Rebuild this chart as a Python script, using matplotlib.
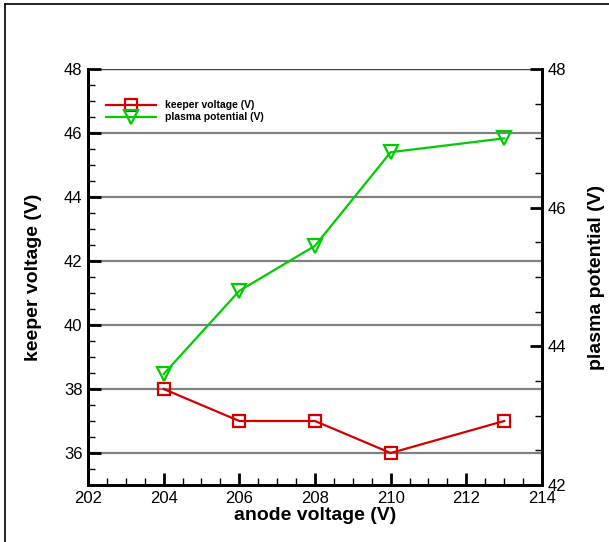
import matplotlib
matplotlib.use("Agg")
import matplotlib.pyplot as plt
from matplotlib.ticker import MultipleLocator
from matplotlib.lines import Line2D

plt.rcParams['font.family'] = ['Liberation Sans', 'DejaVu Sans']

anode = [204, 206, 208, 210, 213]
keeper = [38, 37, 37, 36, 37]
plasma = [43.6, 44.8, 45.45, 46.8, 47.0]

red = '#d40000'
green = '#00cc00'

fig = plt.figure(figsize=(6.09, 5.42), dpi=100)
ax = fig.add_axes([88/609, 1-485/542, (542-88)/609, (485-69)/542])
ax2 = ax.twinx()

ax.set_xlim(202, 214)
ax.set_ylim(35, 48)
ax2.set_ylim(42, 48)

for y in [36, 38, 40, 42, 44, 46]:
    ax.axhline(y, color='#808080', lw=1.6, zorder=0)
ax.axhline(48, color='#404040', lw=1.0, zorder=0)

l1, = ax.plot(anode, keeper, color=red, lw=1.6, marker='s', ms=9,
              mfc='none', mec=red, mew=1.6)
l2, = ax2.plot(anode, plasma, color=green, lw=1.6, marker='v', ms=10,
               mfc='none', mec=green, mew=1.6)

ax.xaxis.set_major_locator(MultipleLocator(2))
ax.xaxis.set_minor_locator(MultipleLocator(0.5))
ax.yaxis.set_major_locator(MultipleLocator(2))
ax.yaxis.set_minor_locator(MultipleLocator(0.5))
ax2.yaxis.set_major_locator(MultipleLocator(2))
ax2.yaxis.set_minor_locator(MultipleLocator(0.5))

ax.tick_params(which='major', direction='in', length=9, width=2, labelsize=12, pad=4)
ax.tick_params(which='minor', direction='in', length=5, width=1)
ax.tick_params(axis='x', top=False, which='both')
ax2.tick_params(which='major', direction='in', length=9, width=2, labelsize=12, pad=4)
ax2.tick_params(which='minor', direction='in', length=5, width=1)

for a in (ax, ax2):
    a.spines['top'].set_visible(False)
    a.spines['left'].set_linewidth(2)
    a.spines['bottom'].set_linewidth(2)
    a.spines['right'].set_linewidth(2)

ax.set_xlabel('anode voltage (V)', fontsize=14, fontweight='bold', labelpad=1)
ax.set_ylabel('keeper voltage (V)', fontsize=14, fontweight='bold', labelpad=16)
ax2.set_ylabel('plasma potential (V)', fontsize=14, fontweight='bold', labelpad=16)

ax.legend([l1, l2], ['keeper voltage (V)', 'plasma potential (V)'],
          loc='upper left', bbox_to_anchor=(0.03, 0.935), frameon=False,
          prop={'size': 7.5, 'weight': 'bold'}, handlelength=4.8,
          labelspacing=0.2, borderaxespad=0, handletextpad=0.9)

# figure frame (left and top edges visible)
fig.add_artist(Line2D([5/609, 5/609], [0, 1-4/542], color='black', lw=1.2,
                      transform=fig.transFigure))
fig.add_artist(Line2D([5/609, 1], [1-4/542, 1-4/542], color='black', lw=1.2,
                      transform=fig.transFigure))

fig.savefig('out.png', dpi=100)
